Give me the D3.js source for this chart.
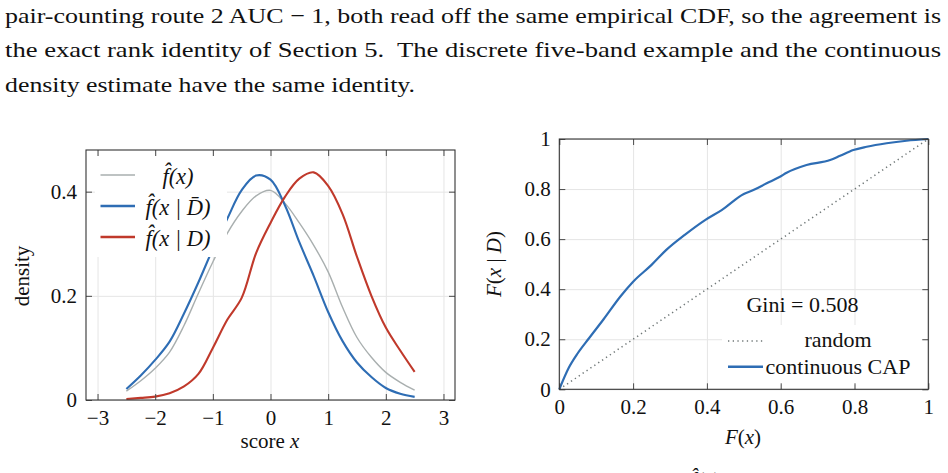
<!DOCTYPE html>
<html><head><meta charset="utf-8">
<script src="https://cdn.jsdelivr.net/npm/d3@7"></script>
<style>
html,body{margin:0;padding:0;background:#fff;}
svg{display:block;font-family:"Liberation Serif","Times New Roman",serif;}
</style></head>
<body>
<svg id="chart" width="948" height="473"></svg>
<script>
// ---------- data ----------
const bodyLines = [
  "pair-counting route 2\u2009AUC \u2212 1, both read off the same empirical CDF, so the agreement is",
  "the exact rank identity of Section 5.  The discrete five-band example and the continuous",
  "density estimate have the same identity."
];
const scoreX = [-2.5,-2.25,-2,-1.75,-1.5,-1.25,-1,-0.75,-0.5,-0.25,0,0.25,0.5,0.75,1,1.25,1.5,1.75,2,2.25,2.5];
const densityAll = [0.017,0.037,0.061,0.092,0.143,0.205,0.265,0.320,0.362,0.392,0.4025,0.378,0.340,0.297,0.246,0.178,0.120,0.082,0.053,0.034,0.019];
const densityNonDefault = [0.021,0.047,0.077,0.112,0.166,0.226,0.290,0.348,0.403,0.431,0.423,0.374,0.303,0.238,0.169,0.113,0.072,0.044,0.023,0.012,0.006];
const densityDefault = [0.002,0.004,0.0065,0.013,0.026,0.050,0.100,0.154,0.196,0.282,0.340,0.390,0.425,0.437,0.411,0.357,0.275,0.200,0.139,0.095,0.054];
const densityLegend = ["f\u0302(x)", "f\u0302(x | D\u0304)", "f\u0302(x | D)"];

const capX = [0,0.025,0.05,0.08,0.12,0.165,0.2,0.25,0.29,0.34,0.395,0.44,0.5,0.526,0.562,0.598,0.616,0.67,0.734,0.761,0.797,0.833,0.887,0.941,1];
const capY = [0,0.084,0.144,0.203,0.28,0.37,0.43,0.497,0.557,0.617,0.676,0.716,0.78,0.796,0.823,0.849,0.865,0.896,0.916,0.933,0.956,0.969,0.983,0.993,1];
const randomX = [0,1];
const randomY = [0,1];
const capLegend = ["random", "continuous CAP"];
const giniText = "Gini = 0.508";

const xTicksL = [-3,-2,-1,0,1,2,3];
const xTickLabelsL = ["\u22123","\u22122","\u22121","0","1","2","3"];
const yTicksL = [0,0.2,0.4];
const yTickLabelsL = ["0","0.2","0.4"];
const ticksR = [0,0.2,0.4,0.6,0.8,1];
const tickLabelsR = ["0","0.2","0.4","0.6","0.8","1"];

// ---------- setup ----------
const svg = d3.select("#chart");
const BLUE = "#2e6db4", RED = "#c0392b", GREY = "#a9afaf", DOT = "#6f7777";
const FS = 21;

// body text (justified like the page)
const body = svg.append("g").attr("font-size", 21.5).attr("fill", "#111");
const bodyBase = [22.5, 57, 91.5];
const bodyLen = [936, 936, 410];
bodyLines.forEach((t, i) => {
  body.append("text").attr("x", 5).attr("y", bodyBase[i])
    .attr("textLength", bodyLen[i]).attr("lengthAdjust", "spacingAndGlyphs")
    .attr("xml:space", "preserve").text(t);
});

function grid(xs, ys, xt, yt) {
  const [x0, x1] = xs.range(), [y0, y1] = ys.range();
  const g = svg.append("g");
  g.append("g").attr("transform", `translate(0,${y0})`)
    .call(d3.axisBottom(xs).tickValues(xt).tickSize(-(y0 - y1)).tickFormat(""))
    .call(s => { s.select(".domain").remove(); s.selectAll("line").attr("stroke", "#e5e5e5").attr("stroke-width", 1); });
  g.append("g").attr("transform", `translate(${x0},0)`)
    .call(d3.axisLeft(ys).tickValues(yt).tickSize(-(x1 - x0)).tickFormat(""))
    .call(s => { s.select(".domain").remove(); s.selectAll("line").attr("stroke", "#e5e5e5").attr("stroke-width", 1); });
}

function frame(xs, ys, xt, xl, yt, yl, xpad, ypad) {
  const [x0, x1] = xs.range(), [y0, y1] = ys.range();
  const style = s => {
    s.select(".domain").remove();
    s.selectAll("line").attr("stroke", "#4a4a4a").attr("stroke-width", 1);
    s.selectAll("text").attr("font-size", FS).attr("fill", "#111")
      .attr("font-family", '"Liberation Serif","Times New Roman",serif');
  };
  svg.append("g").attr("transform", `translate(0,${y0})`)
    .call(d3.axisBottom(xs).tickValues(xt).tickSizeInner(-6).tickSizeOuter(0).tickPadding(xpad).tickFormat((d, i) => xl[i])).call(style);
  svg.append("g").attr("transform", `translate(0,${y1})`)
    .call(d3.axisTop(xs).tickValues(xt).tickSizeInner(-6).tickSizeOuter(0).tickFormat("")).call(style);
  svg.append("g").attr("transform", `translate(${x0},0)`)
    .call(d3.axisLeft(ys).tickValues(yt).tickSizeInner(-6).tickSizeOuter(0).tickPadding(ypad).tickFormat((d, i) => yl[i])).call(style);
  svg.append("g").attr("transform", `translate(${x1},0)`)
    .call(d3.axisRight(ys).tickValues(yt).tickSizeInner(-6).tickSizeOuter(0).tickFormat("")).call(style);
  svg.append("rect").attr("x", x0).attr("y", y1).attr("width", x1 - x0).attr("height", y0 - y1)
    .attr("fill", "none").attr("stroke", "#333").attr("stroke-width", 1.1);
}

// ---------- left panel ----------
const xL = d3.scaleLinear().domain([-3.2, 3.2]).range([86, 455]);
const yL = d3.scaleLinear().domain([0, 0.48]).range([400, 150]);
grid(xL, yL, xTicksL, yTicksL);

const lineL = d3.line().x(d => xL(d[0])).y(d => yL(d[1])).curve(d3.curveCatmullRom.alpha(0.5));
const seriesL = [
  {vals: densityAll, color: GREY, w: 1.4},
  {vals: densityNonDefault, color: BLUE, w: 2.1},
  {vals: densityDefault, color: RED, w: 2.1}
];
seriesL.forEach(s => {
  svg.append("path").datum(scoreX.map((x, i) => [x, s.vals[i]]))
    .attr("d", lineL).attr("fill", "none").attr("stroke", s.color)
    .attr("stroke-width", s.w).attr("stroke-linejoin", "round");
});

// legend left
svg.append("rect").attr("x", 95).attr("y", 156).attr("width", 132).attr("height", 101).attr("fill", "#fff");
seriesL.forEach((s, i) => {
  const cy = 175 + i * 31;
  svg.append("line").attr("x1", 100.5).attr("x2", 135).attr("y1", cy).attr("y2", cy)
    .attr("stroke", s.color).attr("stroke-width", s.w + 0.3);
  svg.append("text").attr("x", 178).attr("y", cy + 8.5).attr("text-anchor", "middle")
    .attr("font-size", 22.5).attr("font-style", "italic").attr("fill", "#111")
    .attr("xml:space", "preserve").text(densityLegend[i]);
});

frame(xL, yL, xTicksL, xTickLabelsL, yTicksL, yTickLabelsL, 10, 9);

// axis labels left
const xlab = svg.append("text").attr("x", 270).attr("y", 447.5).attr("text-anchor", "middle")
  .attr("font-size", FS).attr("fill", "#111");
xlab.append("tspan").text("score ");
xlab.append("tspan").attr("font-style", "italic").text("x");
svg.append("text").attr("transform", "translate(28.5,276) rotate(-90)").attr("text-anchor", "middle")
  .attr("font-size", FS).attr("fill", "#111").text("density");

// ---------- right panel ----------
const xR = d3.scaleLinear().domain([0, 1]).range([559.3, 928.3]);
const yR = d3.scaleLinear().domain([0, 1]).range([389.3, 139]);
grid(xR, yR, ticksR, ticksR);

const lineR = d3.line().x(d => xR(d[0])).y(d => yR(d[1]));
svg.append("path").datum(randomX.map((x, i) => [x, randomY[i]]))
  .attr("d", lineR).attr("fill", "none").attr("stroke", DOT)
  .attr("stroke-width", 1.5).attr("stroke-dasharray", "1.3 3.4");
svg.append("path").datum(capX.map((x, i) => [x, capY[i]]))
  .attr("d", lineR.curve(d3.curveMonotoneX)).attr("fill", "none").attr("stroke", BLUE)
  .attr("stroke-width", 2.2).attr("stroke-linejoin", "round");

svg.append("text").attr("x", 802.5).attr("y", 311.5).attr("text-anchor", "middle")
  .attr("font-size", 22).attr("fill", "#111").text(giniText);

svg.append("rect").attr("x", 722).attr("y", 325).attr("width", 199.7).attr("height", 60).attr("fill", "#fff");
svg.append("line").attr("x1", 728).attr("x2", 763).attr("y1", 341).attr("y2", 341)
  .attr("stroke", DOT).attr("stroke-width", 1.5).attr("stroke-dasharray", "1.3 3.4");
svg.append("line").attr("x1", 728).attr("x2", 763).attr("y1", 366.7).attr("y2", 366.7)
  .attr("stroke", BLUE).attr("stroke-width", 2.4);
capLegend.forEach((t, i) => {
  svg.append("text").attr("x", 838).attr("y", 347 + i * 26.5).attr("text-anchor", "middle")
    .attr("font-size", 22).attr("fill", "#111").text(t);
});

frame(xR, yR, ticksR, tickLabelsR, ticksR, tickLabelsR, 9.5, 8.5);

const xlabR = svg.append("text").attr("x", 743).attr("y", 443.5).attr("text-anchor", "middle")
  .attr("font-size", FS).attr("fill", "#111");
xlabR.append("tspan").attr("font-style", "italic").text("F");
xlabR.append("tspan").text("(");
xlabR.append("tspan").attr("font-style", "italic").text("x");
xlabR.append("tspan").text(")");

const ylabR = svg.append("text").attr("transform", "translate(500.5,264) rotate(-90)").attr("text-anchor", "middle")
  .attr("font-size", FS).attr("fill", "#111").attr("xml:space", "preserve");
ylabR.append("tspan").attr("font-style", "italic").text("F");
ylabR.append("tspan").text("(");
ylabR.append("tspan").attr("font-style", "italic").text("x");
ylabR.append("tspan").text(" | ");
ylabR.append("tspan").attr("font-style", "italic").text("D");
ylabR.append("tspan").text(")");

// glimpse of the caption line below (cut by the page edge, as in the reference)
svg.append("text").attr("x", 690).attr("y", 487).attr("font-size", 21)
  .attr("font-style", "italic").attr("fill", "#111").text("f\u0302(x)");
</script>
</body></html>
